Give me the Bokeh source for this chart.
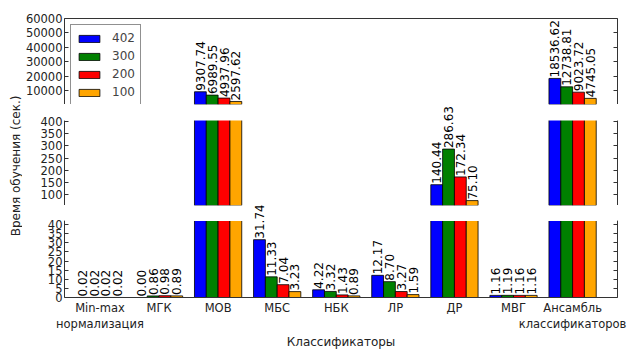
import math
from bokeh.plotting import figure
from bokeh.models import (ColumnDataSource, Range1d, FixedTicker, LinearAxis,
                          Legend, LegendItem, Label, BoxAnnotation)
from bokeh.layouts import row, column
from bokeh.transform import dodge
from bokeh.embed import file_html
from bokeh.resources import INLINE

# ---------------- data ----------------
categories = ["Min-max\nнормализация", "МГК", "МОВ", "МБС", "НБК", "ЛР", "ДР", "МВГ",
              "Ансамбль\nклассификаторов"]
series_names = ["402", "300", "200", "100"]
v402 = [0.02, 0.00, 9307.74, 31.74, 4.22, 12.17, 140.44, 1.16, 18536.62]
v300 = [0.02, 0.86, 6989.55, 11.33, 3.32, 8.70, 286.63, 1.19, 12738.81]
v200 = [0.02, 0.98, 4937.96, 7.04, 1.43, 3.27, 172.34, 1.16, 9023.72]
v100 = [0.02, 0.89, 2597.62, 3.23, 0.89, 1.59, 75.10, 1.16, 4745.05]
series_values = [v402, v300, v200, v100]
colors = ["#0000ff", "#008000", "#ff0000", "#ffa500"]

top_ticks = [10000, 20000, 30000, 40000, 50000, 60000]
mid_ticks = [100, 150, 200, 250, 300, 350, 400]
bot_ticks = [0, 5, 10, 15, 20, 25, 30, 35, 40]

# visible limits of the three parts of the broken axis
top_lim = (500, 60000)
mid_lim = (55, 404)
bot_lim = (0, 42)

y_label = "Время обучения (сек.)"
x_label = "Классификаторы"

# ---------------- styling ----------------
FONT = "DejaVu Sans"
SPINE = "#333333"
TXT = "#222222"
offsets = [-0.3, -0.1, 0.1, 0.3]
BAR_W = 0.2

xs = list(range(len(categories)))
xr = Range1d(-0.6, 8.76)

LW = 22          # width of the y-label strip
LB, RB = 41, 13
COLW = 630 - LW


def panel_of(v):
    if v <= bot_lim[1]:
        return "bot"
    if v <= mid_lim[1]:
        return "mid"
    return "top"


def make_fig(name, lim, ticks, height, bt, bb, headroom_px=0, frame_px=None):
    # the frame may extend above the visible part (headroom) so labels can overflow
    end = lim[1]
    if headroom_px:
        per_px = (lim[1] - lim[0]) / frame_px
        end = lim[1] + headroom_px * per_px
    p = figure(width=COLW, height=height, x_range=xr, y_range=Range1d(lim[0], end),
               toolbar_location=None, output_backend="svg",
               x_axis_location=None, y_axis_location=None,
               min_border_left=LB, min_border_right=RB,
               min_border_top=bt, min_border_bottom=bb)
    p.outline_line_color = None
    p.xgrid.visible = False
    p.ygrid.visible = False
    left = LinearAxis(ticker=FixedTicker(ticks=ticks), major_tick_in=4, major_tick_out=0,
                      minor_tick_line_color=None, major_label_standoff=2,
                      axis_line_color=SPINE, major_tick_line_color=SPINE,
                      major_label_text_font=FONT, major_label_text_font_size="11.5px",
                      major_label_text_color=TXT, bounds=lim)
    right = LinearAxis(ticker=FixedTicker(ticks=ticks), major_tick_in=4, major_tick_out=0,
                       minor_tick_line_color=None, major_label_standoff=0,
                       axis_line_color=SPINE, major_tick_line_color=SPINE,
                       major_label_overrides={t: "" for t in ticks}, bounds=lim)
    p.add_layout(left, "left")
    p.add_layout(right, "right")
    renderers = []
    for i, (vals, c, off) in enumerate(zip(series_values, colors, offsets)):
        bx = [x for x, v in zip(xs, vals) if v > lim[0] or lim[0] == 0]
        bv = [v for v in vals if v > lim[0] or lim[0] == 0]
        bs = ColumnDataSource(dict(x=bx, top=bv))
        r = p.vbar(x=dodge("x", off, range=xr), top="top", bottom=0, width=BAR_W,
                   source=bs, fill_color=c, line_color="black", line_width=0.8)
        renderers.append(r)
    if headroom_px:
        # blank the space above this part of the broken axis
        p.add_layout(BoxAnnotation(bottom=lim[1], fill_color="white", fill_alpha=1.0,
                                   line_alpha=0))
    for i, (vals, off) in enumerate(zip(series_values, offsets)):
        for x, v in zip(xs, vals):
            if panel_of(v) == name:
                p.add_layout(Label(x=x + off, y=v, text="%.2f" % v,
                                   angle=math.pi / 2, text_align="left",
                                   text_baseline="middle", text_font=FONT,
                                   text_font_size="12px", text_color="black",
                                   y_offset=1))
    return p, renderers


p_top, rends = make_fig("top", top_lim, top_ticks, 104, 18, 0)
p_top.add_layout(LinearAxis(ticker=FixedTicker(ticks=[]), major_tick_in=0, major_tick_out=0,
                            minor_tick_line_color=None,
                            axis_line_color=SPINE, major_label_standoff=0), "above")
legend = Legend(items=[LegendItem(label=n, renderers=[r]) for n, r in zip(series_names, rends)],
                location="top_left", margin=6, padding=5, spacing=2,
                label_height=16, glyph_height=9, glyph_width=26, label_standoff=10,
                label_text_font=FONT, label_text_font_size="12px",
                border_line_color=TXT, border_line_width=1,
                background_fill_alpha=1.0)
p_top.add_layout(legend)

# middle part: visible 85 px, plus 16 px of headroom above
p_mid, _ = make_fig("mid", mid_lim, mid_ticks, 101, 0, 0, headroom_px=16, frame_px=85)

# bottom part: visible 84 px, plus 17 px of headroom above
p_bot, _ = make_fig("bot", bot_lim, bot_ticks, 147, 0, 46, headroom_px=17, frame_px=84)
xaxis = LinearAxis(ticker=FixedTicker(ticks=xs),
                   major_label_overrides={x: c for x, c in zip(xs, categories)},
                   major_tick_in=0, major_tick_out=0, minor_tick_line_color=None,
                   axis_line_color=SPINE, major_label_standoff=3,
                   major_label_text_font=FONT, major_label_text_font_size="11.5px",
                   major_label_text_color=TXT,
                   axis_label=x_label, axis_label_standoff=1,
                   axis_label_text_font=FONT, axis_label_text_font_size="12px",
                   axis_label_text_font_style="normal", axis_label_text_color=TXT)
p_bot.add_layout(xaxis, "below")

# y-label strip
p_lab = figure(width=LW, height=352, x_range=Range1d(0, 1), y_range=Range1d(0, 1),
               toolbar_location=None, output_backend="svg",
               x_axis_location=None, y_axis_location=None,
               min_border=0, min_border_left=0, min_border_right=0,
               min_border_top=0, min_border_bottom=0)
p_lab.outline_line_color = None
p_lab.xgrid.visible = False
p_lab.ygrid.visible = False
p_lab.add_layout(Label(x=0.72, y=0.53, text=y_label, angle=math.pi / 2,
                       text_align="center", text_baseline="middle",
                       text_font=FONT, text_font_size="12px", text_color=TXT))

layout = row(p_lab, column(p_top, p_mid, p_bot, spacing=0), spacing=0)

open("out.html", "w").write(file_html(layout, INLINE))
